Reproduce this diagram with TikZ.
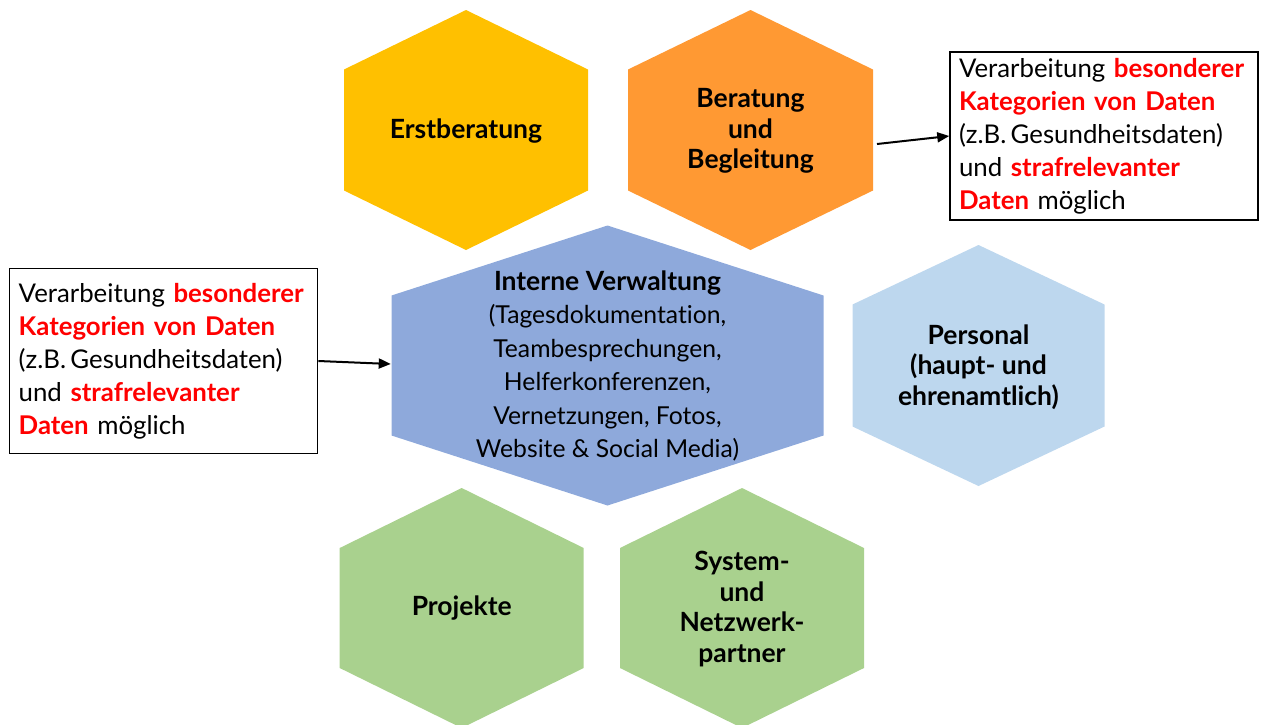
\documentclass[tikz,border=0pt]{standalone}
\usepackage{fontspec}
\setmainfont{Lato}[Ligatures={NoCommon}]
\usetikzlibrary{arrows.meta}
\definecolor{cErst}{HTML}{FFC000}
\definecolor{cBer}{HTML}{FF9933}
\definecolor{cInt}{HTML}{8EA9DB}
\definecolor{cPers}{HTML}{BDD7EE}
\definecolor{cGreen}{HTML}{A9D18E}
\definecolor{cRed}{HTML}{FF0000}
\newcommand{\hexfill}[6]{%
  \fill[#6] (#1,#2-#4) -- (#1+#3,#2-#5) -- (#1+#3,#2+#5) -- (#1,#2+#4) -- (#1-#3,#2+#5) -- (#1-#3,#2-#5) -- cycle;}
\newcommand{\rb}[1]{\textcolor{cRed}{\textbf{#1}}}
\tikzset{
  hexlabel/.style={align=center, font=\fontsize{26.5}{30.5}\selectfont\bfseries, inner sep=0pt},
  intlabel/.style={align=center, font=\fontsize{24.7}{33.4}\selectfont, inner sep=0pt},
  infobox/.style={draw=black, line width=1.5pt, align=left, inner ysep=0pt, inner xsep=9pt,
                  text width=290pt, font=\fontsize{25.8}{33}\selectfont},
  arr/.style={line width=2pt, -{Triangle[length=12pt,width=10pt]}}
}
\begin{document}
\begin{tikzpicture}[x=1pt,y=-1pt]
\useasboundingbox (0,0) rectangle (1261,724);
\begin{scope}
\clip (0,0) rectangle (1261,724);
\hexfill{466}{130}{122}{120}{60.5}{cErst}
\hexfill{750.5}{130}{122.5}{120}{60.5}{cBer}
\hexfill{607.5}{365.5}{216}{140}{70}{cInt}
\hexfill{978.5}{365.5}{126}{120.5}{61}{cPers}
\hexfill{461.7}{608}{122}{120}{60}{cGreen}
\hexfill{742}{608}{122}{120}{60}{cGreen}
\end{scope}

\node[hexlabel] (erst) at (466,131) {Erstberatung};
\node[hexlabel] (ber) at (750.5,131) {Beratung\\und\\Begleitung};
\node[intlabel] (int) at (607.5,366) {{\fontsize{26.5}{33.4}\selectfont\bfseries Interne Verwaltung}\\(Tagesdokumentation,\\Teambesprechungen,\\Helferkonferenzen,\\Vernetzungen, Fotos,\\Website \& Social Media)};
\node[hexlabel] (pers) at (978.5,367) {Personal\\(haupt- und\\ehrenamtlich)};
\node[hexlabel] (proj) at (461.7,608) {Projekte};
\node[hexlabel] (sys) at (742,609) {System-\\und\\Netzwerk-\\partner};

\node[infobox, minimum height=168pt] (boxR) at (1104,136) {Verarbeitung \rb{besonderer}\\\rb{Kategorien von Daten}\\(z.B.\,Gesundheitsdaten)\\und \rb{strafrelevanter}\\\rb{Daten} möglich};
\node[infobox, minimum height=185pt] (boxL) at (163.7,361) {Verarbeitung \rb{besonderer}\\\rb{Kategorien von Daten}\\(z.B.\,Gesundheitsdaten)\\und \rb{strafrelevanter}\\\rb{Daten} möglich};

\coordinate (berE) at (877,144);
\coordinate (intW) at (390.7,364);
\draw[arr] (berE) -- (boxR.west);
\draw[arr] (boxL.east) -- (intW);
\end{tikzpicture}
\end{document}
